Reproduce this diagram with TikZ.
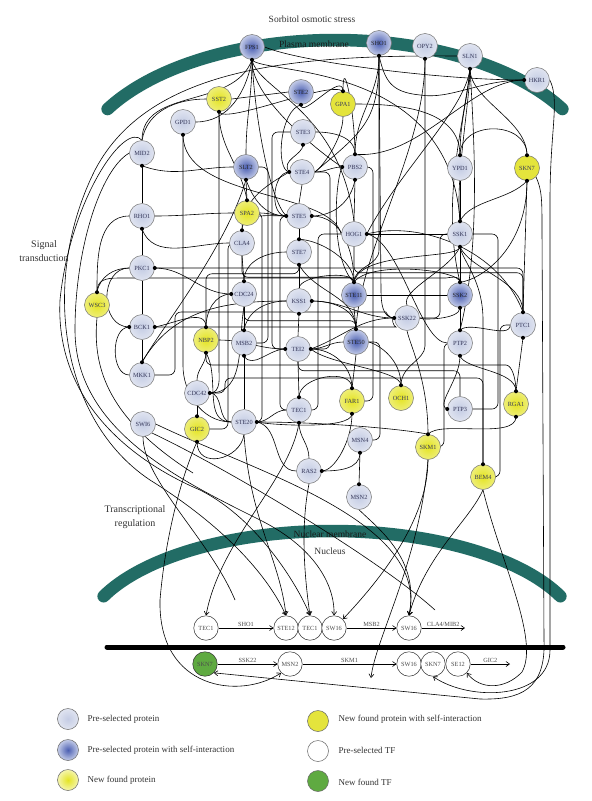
\documentclass[tikz,border=0pt]{standalone}
\usepackage{fontspec}
\setmainfont{Liberation Serif}
\usetikzlibrary{arrows.meta}
\definecolor{memc}{RGB}{34,108,101}
\definecolor{lbl}{RGB}{55,57,90}
\definecolor{pre1}{RGB}{196,204,228}
\definecolor{pre2}{RGB}{224,228,240}
\definecolor{dk1}{RGB}{75,95,178}
\definecolor{dk2}{RGB}{196,204,232}
\definecolor{ye1}{RGB}{228,228,35}
\definecolor{ye2}{RGB}{238,238,120}
\definecolor{yes}{RGB}{228,228,60}
\definecolor{tfg}{RGB}{95,170,65}
\pgfdeclarelayer{bglayer}
\pgfdeclarelayer{memlayer}
\pgfdeclarelayer{edgelayer}
\pgfsetlayers{bglayer,memlayer,edgelayer,main}
\tikzset{
 prot/.style={circle, minimum size=25pt, inner sep=0pt, draw=black!55, line width=0.5pt, font=\fontsize{6.3}{6.3}\selectfont, text=lbl},
 pre/.style={prot, shading=radial, inner color=pre1, outer color=pre2},
 self/.style={prot, shading=radial, inner color=dk1, outer color=dk2, text=black!85},
 newp/.style={prot, shading=radial, inner color=ye1, outer color=ye2},
 tf/.style={circle, minimum size=24.5pt, inner sep=0pt, draw=black!80, line width=0.5pt, fill=white, font=\fontsize{6.3}{6.3}\selectfont, text=black!70},
 tfnew/.style={tf, fill=tfg},
 lk/.style={line width=0.6pt, black},
 ok/.style={lk, rounded corners=6pt},
 ar/.style={line width=0.6pt, black, -{Straight Barb[length=3.5pt,width=5pt]}},
 lab/.style={font=\fontsize{6.3}{6.3}\selectfont, text=black!70, inner sep=1pt},
 ttl/.style={font=\fontsize{9.5}{13}\selectfont, text=black!80, align=center},
 leg/.style={font=\fontsize{9}{10}\selectfont, text=black!80, anchor=west},
 legc/.style={circle, minimum size=21pt, inner sep=0pt, draw=black!60, line width=0.5pt},
}
\begin{document}
\begin{tikzpicture}[x=1pt,y=-1pt]
\useasboundingbox (0,0) rectangle (592,801);
\begin{pgfonlayer}{bglayer}
\fill[white] (0,0) rectangle (592,801);
\end{pgfonlayer}

% ---------- proteins ----------
\node[self] (FPS1) at (252,47) {FPS1};
\node[self] (SHO1) at (379,43) {SHO1};
\node[pre] (OPY2) at (425,46) {OPY2};
\node[pre] (SLN1) at (470,56) {SLN1};
\node[pre] (HKR1) at (537,80) {HKR1};
\node[self] (STE2) at (301,92) {STE2};
\node[newp] (SST2) at (219,99) {SST2};
\node[prot,fill=yes] (GPA1) at (343,104) {GPA1};
\node[pre] (GPD1) at (183,122) {GPD1};
\node[pre] (STE3) at (303,132) {STE3};
\node[pre] (MID2) at (142,153) {MID2};
\node[self] (SLT2) at (246,167) {SLT2};
\node[pre] (STE4) at (302,172) {STE4};
\node[pre] (PBS2) at (355,167) {PBS2};
\node[pre] (YPD1) at (460,168) {YPD1};
\node[prot,fill=yes] (SKN7) at (527,168) {SKN7};
\node[pre] (RHO1) at (142,216) {RHO1};
\node[newp] (SPA2) at (247,213) {SPA2};
\node[pre] (STE5) at (299,216) {STE5};
\node[pre] (HOG1) at (354,234) {HOG1};
\node[pre] (SSK1) at (460,234) {SSK1};
\node[pre] (CLA4) at (242,243) {CLA4};
\node[pre] (STE7) at (299,252) {STE7};
\node[pre] (PKC1) at (142,268) {PKC1};
\node[pre] (CDC24) at (244,294) {CDC24};
\node[pre] (KSS1) at (299,301) {KSS1};
\node[self] (STE11) at (354,295) {STE11};
\node[self] (SSK2) at (460,295) {SSK2};
\node[newp] (WSC3) at (97,305) {WSC3};
\node[pre] (SSK22) at (407,318) {SSK22};
\node[pre] (PTC1) at (523,325) {PTC1};
\node[pre] (BCK1) at (142,327) {BCK1};
\node[newp] (NBP2) at (206,340) {NBP2};
\node[pre] (MSB2) at (244,343) {MSB2};
\node[pre] (TEI2) at (298,349) {TEI2};
\node[self] (STE50) at (356,342) {STE50};
\node[pre] (PTP2) at (460,343) {PTP2};
\node[pre] (MKK1) at (142,375) {MKK1};
\node[pre] (CDC42) at (197,393) {CDC42};
\node[newp] (FAR1) at (352,401) {FAR1};
\node[newp] (OCH1) at (401,398) {OCH1};
\node[newp] (RGA1) at (516,404) {RGA1};
\node[pre] (PTP3) at (460,409) {PTP3};
\node[pre] (TEC1) at (299,410) {TEC1};
\node[pre] (STE20) at (244,422) {STE20};
\node[pre] (SWI6) at (143,424) {SWI6};
\node[newp] (GIC2) at (197,429) {GIC2};
\node[pre] (MSN4) at (360,440) {MSN4};
\node[newp] (SKM1) at (428,447) {SKM1};
\node[pre] (RAS2) at (309,471) {RAS2};
\node[newp] (BEM4) at (483,477) {BEM4};
\node[pre] (MSN2) at (359,497) {MSN2};

% ---------- transcription factors ----------
\node[tf] (TEC1a) at (206,628) {TEC1};
\node[tf] (STE12) at (286,628) {STE12};
\node[tf] (TEC1b) at (310,628) {TEC1};
\node[tf] (SW16a) at (334,628) {SW16};
\node[tf] (SW16b) at (409,628) {SW16};
\node[tfnew] (SKN7g) at (205,664) {SKN7};
\node[tf] (MSN2t) at (290,664) {MSN2};
\node[tf] (SW16c) at (409,664) {SW16};
\node[tf] (SKN7t) at (433,664) {SKN7};
\node[tf] (SE12) at (458,664) {SE12};

\coordinate (c1) at (193,473);
\coordinate (c2) at (371,678);
\coordinate (c3) at (235,600);
\coordinate (c4) at (435,610);
\coordinate (c6) at (465,628);
\coordinate (c7) at (510,664);

% ---------- texts ----------
\node[ttl] (t1) at (312,19) {Sorbitol osmotic stress};
\node[ttl, text=black!90] (t2) at (314,44) {Plasma membrane};
\node[ttl, text=black!90] (t3) at (330,534) {Nuclear membrane};
\node[ttl] (t4) at (330,551) {Nucleus};
\node[ttl,font=\fontsize{10}{14.5}\selectfont] (t5) at (44,251) {Signal\\transduction};
\node[ttl,font=\fontsize{10}{14}\selectfont] (t6) at (135,517) {Transcriptional\\regulation};

% ---------- legend ----------
\node[legc, shading=radial, inner color=pre1, outer color=pre2] (L1) at (68,719) {};
\node[leg] at (84,719) {Pre-selected protein};
\node[legc, shading=radial, inner color=dk1, outer color=dk2] (L2) at (68,750) {};
\node[leg] at (84,750) {Pre-selected protein with self-interaction};
\node[legc, shading=radial, inner color=ye1, outer color=ye2!60!white] (L3) at (68,780) {};
\node[leg] at (84,780) {New found protein};
\node[legc, fill=yes] (L4) at (318,721) {};
\node[leg] at (335,719) {New found protein with self-interaction};
\node[legc, fill=white] (L5) at (318,751) {};
\node[leg] at (335,750) {Pre-selected TF};
\node[legc, fill=tfg] (L6) at (318,781) {};
\node[leg] at (335,782) {New found TF};

% ---------- dots ----------
\foreach \a in {FPS1.south, SHO1.south, OPY2.south, SLN1.south, HKR1.west, STE2.south, SST2.south, GPA1.north, GPD1.south, STE3.south, MID2.south, SLT2.south, STE4.west, PBS2.north, PBS2.west, PBS2.south, YPD1.north, SKN7.north, SKN7.south, RHO1.south, SPA2.north, STE5.west, STE5.east, HOG1.east, SSK1.north, SSK1.south, CLA4.north, STE7.north, STE7.south, PKC1.east, CDC24.north, CDC24.west, KSS1.east, KSS1.south, STE11.north, SSK2.north, SSK2.south, WSC3.north, SSK22.west, PTC1.north, PTC1.south, BCK1.west, BCK1.east, NBP2.north, NBP2.south, MSB2.north, MSB2.south, TEI2.west, TEI2.east, STE50.north, PTP2.north, PTP2.south, MKK1.north, CDC42.east, FAR1.north, FAR1.south, OCH1.north, RGA1.north, RGA1.south, PTP3.west, TEC1.north, TEC1.south, STE20.east, GIC2.north, GIC2.south, MSN4.south, SKM1.north, RAS2.east, BEM4.north, MSN2.north}
  \fill (\a) circle (2pt);

% ---------- membranes ----------
\begin{pgfonlayer}{memlayer}
\draw[memc, line width=12.5pt, line cap=round] plot[domain=29:151, samples=80, smooth] ({335+260*cos(\x)},{174-134*sin(\x)});
\draw[memc, line width=12.5pt, line cap=round] plot[domain=24:156, samples=80, smooth] ({332+250*cos(\x)},{641-110*sin(\x)});
\draw[black, line width=5pt, line cap=round] (107,647) -- (563,647);
\end{pgfonlayer}

% ---------- connectors ----------
\begin{pgfonlayer}{edgelayer}
% left column
\draw[lk] (MID2.south) -- (RHO1.north);
\draw[lk] (RHO1.south) -- (PKC1.north);
\draw[lk] (PKC1.south) -- (BCK1.north);
\draw[lk] (BCK1.south) -- (MKK1.north);
\draw[lk] (MID2.south) to[out=-20,in=180] (SLT2.west);
\draw[lk] (MID2.north) to[out=80,in=180] (SST2.west);
\draw[lk] (WSC3.north) to[out=90,in=180] (RHO1.west);
\draw[lk] (WSC3.north) to[out=80,in=180] (PKC1.west);
\draw[ok] (WSC3.north) .. controls (97,280) and (105,278) .. (125,278) -- (440,278) to[out=0,in=90] (SSK2.north);
\draw[ok] (PKC1.east) -| (PTC1.north);
\draw[lk] (PKC1.east) to[out=0,in=180] (CDC24.west);
\draw[lk] (RHO1.south) to[out=-70,in=180] (CLA4.west);
\draw[lk] (RHO1.east) to[out=0,in=180] (SPA2.west);
\draw[ok] (BCK1.east) -- (390,327) to[out=0,in=180] (SSK22.west);
\draw[lk] (BCK1.east) to[out=10,in=90] (NBP2.north);
\draw[lk] (BCK1.west) to[out=180,in=180,looseness=1.3] (PKC1.west);
\draw[lk] (BCK1.west) to[out=180,in=180] (MKK1.west);
\draw[lk] (MKK1.north) .. controls (160,330) and (225,250) .. (SLT2.south);
\draw[lk] (MKK1.north) to[out=60,in=180] (KSS1.west);
\draw[ok] (MKK1.east) -| (175,312) -- (380,312) to[out=0,in=180] (SSK22.west);
% top
\draw[lk] (GPD1.east) to[out=0,in=-100] (FPS1.south);
\draw[ok] (GPD1.south) -- (183,360) to[out=-90,in=180] (STE20.west);
\draw[lk] (GPD1.south) .. controls (183,200) and (330,190) .. (HOG1.west);
\draw[ok] (SST2.south) -- (219,365) to[out=-90,in=0] (CDC42.east);
\draw[lk] (SST2.south) .. controls (225,125) and (330,80) .. (GPA1.north);
\draw[lk] (SST2.east) -- (STE2.west);
\draw[lk] (FPS1.south) to[out=-90,in=90] (SLT2.north);
\draw[lk] (FPS1.south) .. controls (255,120) and (270,200) .. (STE5.west);
\draw[lk] (FPS1.south) .. controls (262,75) and (450,60) .. (SSK1.north);
\draw[lk] (FPS1.south) .. controls (258,90) and (340,110) .. (HOG1.north);
\draw[lk] (FPS1.south) .. controls (250,100) and (330,160) .. (PBS2.west);
\draw[lk] (FPS1.south) to[out=-110,in=90] (MID2.north);
\draw[lk] (FPS1.east) .. controls (300,62) and (440,80) .. (HKR1.west);
\draw[lk] (STE2.south) .. controls (301,120) and (343,70) .. (GPA1.north);
\draw[lk] (STE2.south) .. controls (280,110) and (275,170) .. (STE4.west);
\draw[lk] (STE3.south) .. controls (303,155) and (280,160) .. (STE4.west);
\draw[lk] (STE3.east) to[out=0,in=90] (PBS2.north);
\draw[ok] (STE3.west) -- (272,132) |- (TEI2.west);
\draw[lk] (GPA1.north) to[out=90,in=90,looseness=1.6] (PBS2.north);
\draw[lk] (GPA1.south) .. controls (343,140) and (320,170) .. (STE4.east);
\draw[lk] (GPA1.east) to[out=0,in=90] (YPD1.north);
\draw[lk] (STE4.south) -- (STE5.north);
\draw[lk] (STE4.west) to[out=180,in=180] (STE5.west);
\draw[lk] (STE4.west) to[out=-150,in=90] (CLA4.north);
\draw[ok] (STE4.east) -- (330,172) |- (TEI2.east);
\draw[lk] (STE5.south) -- (STE7.north);
\draw[lk] (STE5.east) to[out=0,in=90] (STE11.north);
\draw[lk] (STE5.east) to[out=0,in=-100] (PBS2.south);
\draw[lk] (STE5.west) to[out=180,in=0] (SPA2.east);
\draw[ok] (STE5.west) -- (280,216) |- (TEC1.west);
\draw[lk] (STE7.south) -- (KSS1.north);
\draw[lk] (STE7.north) .. controls (320,240) and (354,260) .. (STE11.north);
\draw[lk] (STE7.south) to[out=-60,in=90] (STE50.north);
\draw[ok] (STE7.south) -- ++(0,9) -| (NBP2.north);
\draw[lk] (KSS1.south) -- (TEI2.north);
\draw[lk] (KSS1.east) to[out=0,in=90] (STE50.north);
\draw[lk] (KSS1.east) to[out=0,in=180] (SSK22.west);
\draw[lk] (SLT2.south) -- (SPA2.north);
\draw[lk] (SLT2.south) to[out=-70,in=180] (STE5.west);
\draw[ok] (SLT2.east) -- (268,167) |- (MSB2.east);
\draw[lk] (SPA2.north) to[out=100,in=-90] (SST2.south);
\draw[ok] (SPA2.east) -- (262,213) |- (STE20.east);
\draw[lk] (CLA4.north) to[out=90,in=180] (STE5.west);
\draw[ok] (CLA4.west) -- (228,243) |- (GIC2.east);
\draw[lk] (CDC24.north) -- (CLA4.south);
\draw[lk] (CDC24.north) to[out=90,in=180] (STE7.west);
\draw[lk] (CDC24.west) to[out=180,in=90] (NBP2.north);
\draw[ok] (CDC24.south) -- ++(0,14) -| (STE50.north);
\draw[ok] (STE11.north) -- ++(0,-5) -| (CLA4.south);
\draw[lk] (MSB2.north) -- (CDC24.south);
\draw[lk] (MSB2.south) -- (STE20.north);
\draw[lk] (MSB2.north) to[out=80,in=180] (KSS1.west);
\draw[lk] (TEI2.west) to[out=180,in=-60] (MSB2.south);
\draw[lk] (TEI2.west) to[out=180,in=0] (NBP2.east);
\draw[lk] (TEI2.east) to[out=0,in=90] (FAR1.north);
\draw[lk] (TEI2.east) to[out=0,in=180] (STE50.west);
\draw[lk] (TEI2.east) to[out=20,in=180] (SSK22.west);
\draw[lk] (TEI2.south) -- (TEC1.north);
\draw[ok] (TEI2.south) -- ++(0,9) -| (PTP3.north);
\draw[lk] (TEC1.south) to[out=-90,in=90] (RAS2.north);
\draw[lk] (TEC1.north) to[out=90,in=90] (FAR1.north);
\draw[ok] (NBP2.south) -- (206,365) -- (500,365) to[out=0,in=90] (RGA1.north);
\draw[lk] (NBP2.south) to[out=-90,in=90] (CDC42.north);
\draw[lk] (NBP2.south) to[out=-60,in=180] (STE20.west);
\draw[lk] (CDC42.south) -- (GIC2.north);
\draw[lk] (CDC42.east) to[out=0,in=180] (STE20.west);
\draw[lk] (CDC42.east) to[out=0,in=-100] (CDC24.south);
\draw[ok] (CDC42.east) -| (225,378) -- (483,378) -- (BEM4.north);
\draw[lk] (GIC2.south) .. controls (197,470) and (240,460) .. (STE20.south);
\draw[lk] (STE20.east) to[out=0,in=180] (TEC1.west);
\draw[lk] (STE20.east) to[out=-10,in=180] (RAS2.west);
\draw[lk] (STE20.east) .. controls (330,422) and (410,430) .. (SKM1.north);
\draw[lk] (FAR1.south) .. controls (352,430) and (270,425) .. (STE20.east);
\draw[lk] (RAS2.east) .. controls (335,471) and (352,440) .. (FAR1.south);
\draw[lk] (RAS2.east) to[out=0,in=-90] (MSN4.south);
% right part
\draw[lk] (SHO1.south) to[out=-90,in=90] (PBS2.north);
\draw[lk] (SHO1.south) -- (379,250) to[out=-90,in=90] (STE11.north);
\draw[lk] (SHO1.south) -- (381,290) to[out=-90,in=180] (SSK22.west);
\draw[lk] (SHO1.south) .. controls (379,120) and (365,130) .. (STE4.east);
\draw[ok] (OPY2.south) -- (425,340) to[out=-90,in=90] (OCH1.north);
\draw[lk] (OPY2.south) .. controls (425,150) and (360,250) .. (STE50.north);
\draw[lk] (SLN1.south) to[out=-95,in=90] (YPD1.north);
\draw[lk] (SLN1.south) .. controls (470,100) and (455,180) .. (SSK1.north);
\draw[lk] (SLN1.south) .. controls (470,100) and (527,120) .. (SKN7.north);
\draw[lk] (SLN1.south) .. controls (465,120) and (440,200) .. (SSK2.north);
\draw[lk] (SLN1.south) .. controls (475,150) and (480,250) .. (PTP2.north);
\draw[lk] (SLN1.south) .. controls (465,110) and (400,170) .. (HOG1.east);
\draw[lk] (YPD1.north) .. controls (460,120) and (527,120) .. (SKN7.north);
\draw[lk] (YPD1.south) -- (SSK1.north);
\draw[lk] (HKR1.west) .. controls (480,80) and (450,100) .. (420,95) .. controls (390,92) and (385,80) .. (SHO1.south);
\draw[lk] (HKR1.west) .. controls (470,80) and (420,160) .. (PBS2.north);
\draw[lk] (SSK1.south) -- (SSK2.north);
\draw[lk] (SSK1.south) .. controls (460,260) and (360,250) .. (STE11.north);
\draw[lk] (SSK1.south) .. controls (450,270) and (400,290) .. (SSK22.north);
\draw[lk] (SSK1.south) .. controls (470,270) and (523,280) .. (PTC1.north);
\draw[lk] (HOG1.east) -- (SSK1.west);
\draw[lk] (HOG1.east) .. controls (400,240) and (420,343) .. (PTP2.west);
\draw[lk] (HOG1.east) .. controls (420,220) and (500,250) .. (PTC1.north);
\draw[ok] (HOG1.south) -- ++(0,26) -| (PTC1.north);
\draw[ok] (HOG1.west) -- (318,234) |- (TEC1.east);
\draw[lk] (PBS2.south) -- (HOG1.north);
\draw[lk] (PBS2.west) .. controls (335,180) and (330,260) .. (STE11.north);
\draw[lk] (PBS2.west) to[out=180,in=0] (STE4.east);
\draw[ok] (PBS2.east) -- (373,167) |- (FAR1.east);
\draw[lk] (STE11.south) -- (STE50.north);
\draw[lk] (STE11.east) -- (SSK2.west);
\draw[lk] (STE11.north) .. controls (354,270) and (300,275) .. (KSS1.north);
\draw[ok] (STE50.east) -- (380,342) |- (MSN4.east);
\draw[lk] (SSK2.south) -- (PTP2.north);
\draw[lk] (SSK2.north) .. controls (460,270) and (370,260) .. (STE11.north);
\draw[lk] (SSK2.south) .. controls (460,320) and (420,320) .. (SSK22.east);
\draw[ok] (SSK1.west) -- (440,234) |- (SSK22.east);
\draw[ok] (SSK1.east) -- (498,234) |- (PTP3.east);
\draw[ok] (PTP2.west) -- (444,343) |- (SKM1.east);
\draw[ok] (PTC1.west) -- (500,325) |- (BEM4.east);
\draw[lk] (PTP2.north) .. controls (470,320) and (510,340) .. (PTC1.west);
\draw[lk] (PTP2.south) .. controls (460,380) and (435,405) .. (PTP3.west);
\draw[lk] (PTP2.south) .. controls (465,370) and (516,370) .. (RGA1.north);
\draw[lk] (PTC1.north) -- (SKN7.south);
\draw[lk] (PTC1.south) -- (RGA1.north);
\draw[lk] (SKN7.south) .. controls (527,250) and (480,280) .. (SSK2.north);
\draw[lk] (SKN7.south) .. controls (510,200) and (470,200) .. (SSK1.north);
\draw[lk] (RGA1.south) .. controls (516,440) and (440,420) .. (SKM1.north);
\draw[lk] (BEM4.north) -- (483,320) .. controls (483,280) and (462,260) .. (SSK1.south);
\draw[lk] (SKM1.north) .. controls (428,380) and (410,345) .. (SSK22.south);
\draw[lk] (MSN4.south) -- (MSN2.north);
\draw[lk] (FAR1.north) -- (STE50.south);
\draw[lk] (OCH1.north) .. controls (401,360) and (380,345) .. (STE50.east);
\draw[lk] (OCH1.north) .. controls (401,370) and (330,365) .. (TEI2.east);
% long loops on the left
\draw[ar] (SLN1.west) .. controls (300,55) and (150,65) .. (95,170) .. controls (40,280) and (60,420) .. (150,480) .. controls (230,530) and (270,580) .. (STE12.north);
\draw[ar] (MID2.north) .. controls (125,120) and (70,200) .. (60,300) .. controls (55,400) and (130,460) .. (200,490) .. controls (260,520) and (300,590) .. (TEC1b.north);
\draw[ar] (MID2.west) .. controls (100,170) and (75,250) .. (75,330) .. controls (75,430) and (180,480) .. (260,520) .. controls (320,550) and (335,590) .. (SW16a.north);
\draw[lk] (WSC3.south) .. controls (92,370) and (110,420) .. (c1);
% into the nucleus
\draw[ar] (TEC1.south) .. controls (290,480) and (220,540) .. (TEC1a.north);
\draw[ar] (STE20.south) .. controls (250,520) and (280,560) .. (STE12.north);
\draw[ar] (RAS2.south) .. controls (300,530) and (305,580) .. (TEC1b.north);
\draw[ar] (SKM1.south) .. controls (428,520) and (380,580) .. (SW16a.north east);
\draw[ar] (MSN2.south) .. controls (380,530) and (420,560) .. (SW16b.north);
\draw[ar] (BEM4.south) .. controls (470,520) and (425,555) .. (SW16b.north);
\draw[ar] (SWI6.east) .. controls (250,470) and (430,520) .. (SW16b.north);
\draw[lk] (SWI6.south) .. controls (143,480) and (210,540) .. (c3);
\draw[lk] (SWI6.south east) .. controls (230,470) and (380,560) .. (c4);
\draw[ar] (SKM1.south) .. controls (420,560) and (375,640) .. (c2);
\draw[ar] (SKN7.south east) .. controls (542,190) and (542,200) .. (542,230) -- (544,640) .. controls (546,690) and (520,700) .. (480,699) -- (SKN7g.south east);
\draw[ar] (GIC2.south) .. controls (180,480) and (165,540) .. (160,600) .. controls (158,690) and (240,700) .. (MSN2t.south west);
\draw[ar] (BEM4.south) .. controls (500,560) and (540,640) .. (522,672) .. controls (505,690) and (480,690) .. (SE12.south east);
\draw[ar] (HKR1.east) .. controls (560,100) and (550,130) .. (550,200) -- (550,650) .. controls (550,700) and (470,702) .. (SKN7t.south);
% transcription
\draw[ar] (TEC1a) -- node[lab,above]{SHO1} (STE12);
\draw[ar] (SW16a) -- node[lab,above]{MSB2} (SW16b);
\draw[ar] (SW16b) -- node[lab,above]{CLA4/MIB2} (c6);
\draw[ar] (SKN7g) -- node[lab,above]{SSK22} (MSN2t);
\draw[ar] (MSN2t) -- node[lab,above]{SKM1} (SW16c);
\draw[ar] (SE12) -- node[lab,above]{GIC2} (c7);
\end{pgfonlayer}
\end{tikzpicture}
\end{document}
